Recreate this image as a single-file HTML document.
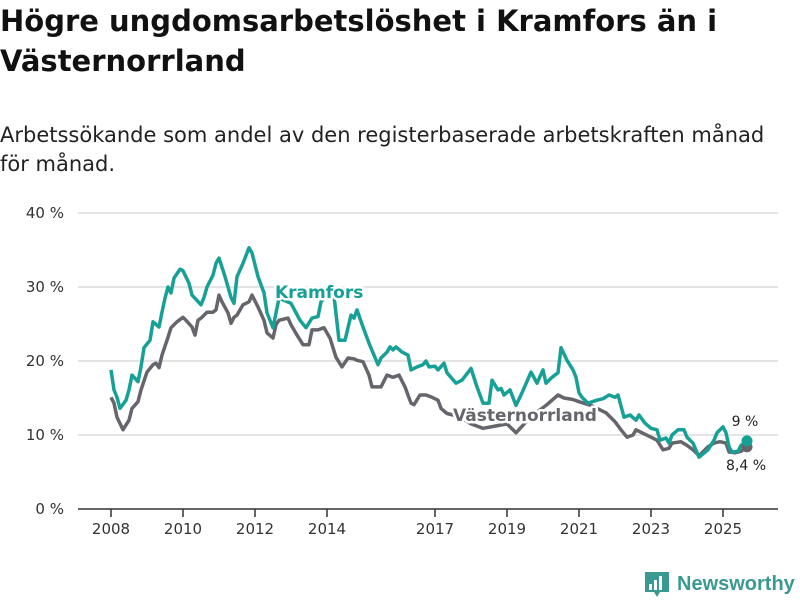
<!DOCTYPE html>
<html><head><meta charset="utf-8">
<style>
body{margin:0;background:#fff;width:800px;height:600px;overflow:hidden;font-family:"DejaVu Sans",sans-serif;}
#title{position:absolute;left:0;top:1px;margin:0;font-size:29px;font-weight:bold;line-height:40px;color:#111;width:790px}
#sub{position:absolute;left:0;top:121px;margin:0;font-size:21px;line-height:29px;color:#222;width:800px;white-space:nowrap}
svg{position:absolute;left:0;top:0}
</style></head><body>
<h1 id="title">Högre ungdomsarbetslöshet i Kramfors än i Västernorrland</h1>
<p id="sub">Arbetssökande som andel av den registerbaserade arbetskraften månad<br>för månad.</p>
<svg id="chart" width="800" height="600"></svg>
<script>
const yTicks=[0,10,20,30,40];
const xTickYears=[2008,2010,2012,2014,2017,2019,2021,2023,2025];
// months since Jan 2008
const kramMonths=[0,1,2,3,5,6,7,9,10,11,13,14,16,17,18,19,20,21,23,24,26,27,30,31,32,34,35,36,38,40,41,42,44,46,47,49,51,52,54,56,60,63,65,67,69,70,74,76,78,80,81,82,84,86,89,90,92,93,94,95,97,99,100,102,104,105,106,108,109,111,112,115,117,120,122,124,126,127,129,130,131,133,135,137,140,142,144,145,147,149,150,152,154,155,156,157,159,162,164,166,168,169,171,173,175,176,178,180,182,183,185,186,187,189,191,192,194,196,199,201,202,204,205,206,207,209,210,212];
const kramValues=[18.8,16.1,15.1,13.6,14.7,16.1,18.1,17.2,19.2,21.8,22.8,25.3,24.6,26.6,28.5,30,29.2,31.2,32.4,32.2,30.5,28.9,27.6,28.6,30,31.6,33.2,33.9,31.4,28.6,27.8,31.4,33.2,35.3,34.6,31.4,29.2,26.5,24.5,28.5,27.8,25.5,24.5,25.8,26,28,30,22.8,22.8,26.2,25.8,26.9,24.6,22.4,19.5,20.4,21.2,21.9,21.5,21.9,21.2,20.8,18.8,19.2,19.5,20,19.2,19.3,18.8,19.7,18.4,17,17.4,19,16.5,14.3,14.3,17.4,16.1,16.3,15.4,16.1,14,15.7,18.5,17,18.8,17,17.8,18.4,21.8,20.1,18.8,17.8,15.7,15.1,14.3,14.7,14.9,15.4,15.1,15.4,12.4,12.7,12,12.7,11.6,10.9,10.7,9.3,9.6,8.9,10,10.7,10.7,9.7,8.9,7,8,9.3,10.3,11.1,10.3,8.4,7.7,7.8,8.6,9.2];
const vnMonths=[0,1,2,4,6,7,9,10,12,14,15,16,17,19,20,22,24,25,27,28,29,30,32,34,35,36,37,39,40,41,42,44,46,47,49,51,52,54,55,56,59,60,62,64,66,67,69,71,73,75,77,79,81,82,84,86,87,90,92,94,96,98,100,101,103,105,107,109,110,112,116,120,124,128,132,135,140,145,149,151,154,156,160,165,168,170,172,174,175,177,180,182,184,186,187,190,192,194,196,199,201,203,205,206,208,210,212];
const vnValues=[15.1,14.3,12.4,10.7,12,13.6,14.5,16.1,18.5,19.5,19.7,19.1,20.8,23.2,24.5,25.3,25.9,25.5,24.6,23.5,25.5,25.8,26.6,26.6,26.9,28.9,28,26.5,25.1,25.9,26.2,27.6,28,28.9,27.3,25.5,23.8,23.1,24.9,25.5,25.8,24.9,23.5,22.2,22.2,24.2,24.2,24.5,23.1,20.5,19.2,20.4,20.3,20.1,19.9,18.1,16.5,16.5,18.1,17.8,18.1,16.5,14.3,14.1,15.4,15.4,15.1,14.7,13.6,12.9,12.5,11.5,10.9,11.2,11.5,10.3,12.5,14,15.4,15,14.8,14.5,14,13,11.8,10.7,9.7,10,10.7,10.3,9.7,9.3,8,8.2,8.9,9.1,8.6,8,7.2,8.4,8.9,9.1,8.9,7.7,7.6,7.8,8.4];
const kramLast="9 %", vnLast="8,4 %";

const NS="http://www.w3.org/2000/svg";
const svg=document.getElementById('chart');
const X0=111, PXM=3, Y0=509, PXP=7.4;
const FF='DejaVu Sans, sans-serif';
const xm=m=>X0+m*PXM;
const xy=v=>Y0-v*PXP;
function el(tag,attrs,parent){const e=document.createElementNS(NS,tag);for(const k in attrs)e.setAttribute(k,attrs[k]);(parent||svg).appendChild(e);return e;}

yTicks.forEach(t=>{
  if(t>0){const g=el('line',{x1:78,x2:778,y1:xy(t),y2:xy(t),stroke:'#dcdcdc','stroke-width':1.5});
  
  }
  const tx=el('text',{x:64,y:xy(t)+5,'text-anchor':'end','font-size':15,fill:'#333','font-family':FF});
  tx.textContent=t+' %';
  
  
});
const ax=el('line',{x1:78,x2:778,y1:Y0,y2:Y0,stroke:'#333','stroke-width':1.5});


xTickYears.forEach(yr=>{
  const x=xm((yr-2008)*12);
  const tk=el('line',{x1:x,x2:x,y1:Y0,y2:Y0+8,stroke:'#333','stroke-width':1.5});
  
  
  const tx=el('text',{x:x,y:534,'text-anchor':'middle','font-size':15,fill:'#333','font-family':FF});
  tx.textContent=yr;
  
  
});
function line(ms,vs,color,name){
  const d=ms.map((m,i)=>(i?'L':'M')+xm(m).toFixed(1)+','+xy(vs[i]).toFixed(1)).join('');
  const p=el('path',{d:d,fill:'none',stroke:color,'stroke-width':3.5,'stroke-linejoin':'round'});
  
  
}
line(vnMonths,vnValues,'#67656c','vasternorrland-line');
line(kramMonths,kramValues,'#16a096','kramfors-line');
const d1=el('circle',{cx:xm(vnMonths[vnMonths.length-1]),cy:xy(vnValues[vnValues.length-1]),r:5.5,fill:'#67656c'});


const d2=el('circle',{cx:xm(kramMonths[kramMonths.length-1]),cy:xy(kramValues[kramValues.length-1]),r:5.5,fill:'#16a096'});


function label(x,y,txt,color,name,size,bold,anchor){
  const t=el('text',{x:x,y:y,fill:color,'font-size':size,'font-weight':bold?'bold':'normal','text-anchor':anchor||'start',stroke:'#fff','stroke-width':bold?5:0,'paint-order':'stroke','stroke-linejoin':'round','font-family':FF});
  t.textContent=txt;
  
  
}
label(275,298,'Kramfors','#16a096','kramfors-label',17,true);
label(453,421,'Västernorrland','#67656c','vasternorrland-label',17,true);
label(745,426,kramLast,'#222','kramfors-last-value',14,false,'middle');
label(746,470,vnLast,'#222','vasternorrland-last-value',14,false,'middle');
// logo
const lg=el('g',{});


el('path',{d:'M645 572h24v20h-9l-3 5-3-5h-9z',fill:'#3a9a92'},lg);
[[649,584,3,6],[654,580,3,10],[659,576,3,14]].forEach(r=>el('rect',{x:r[0],y:r[1],width:r[2],height:r[3],fill:'#fff'},lg));
const lt=el('text',{x:677,y:590,fill:'#3a9a92','font-size':20,'font-weight':'bold','font-family':'Liberation Sans, sans-serif'},lg);
lt.textContent='Newsworthy';
</script>
</body></html>
